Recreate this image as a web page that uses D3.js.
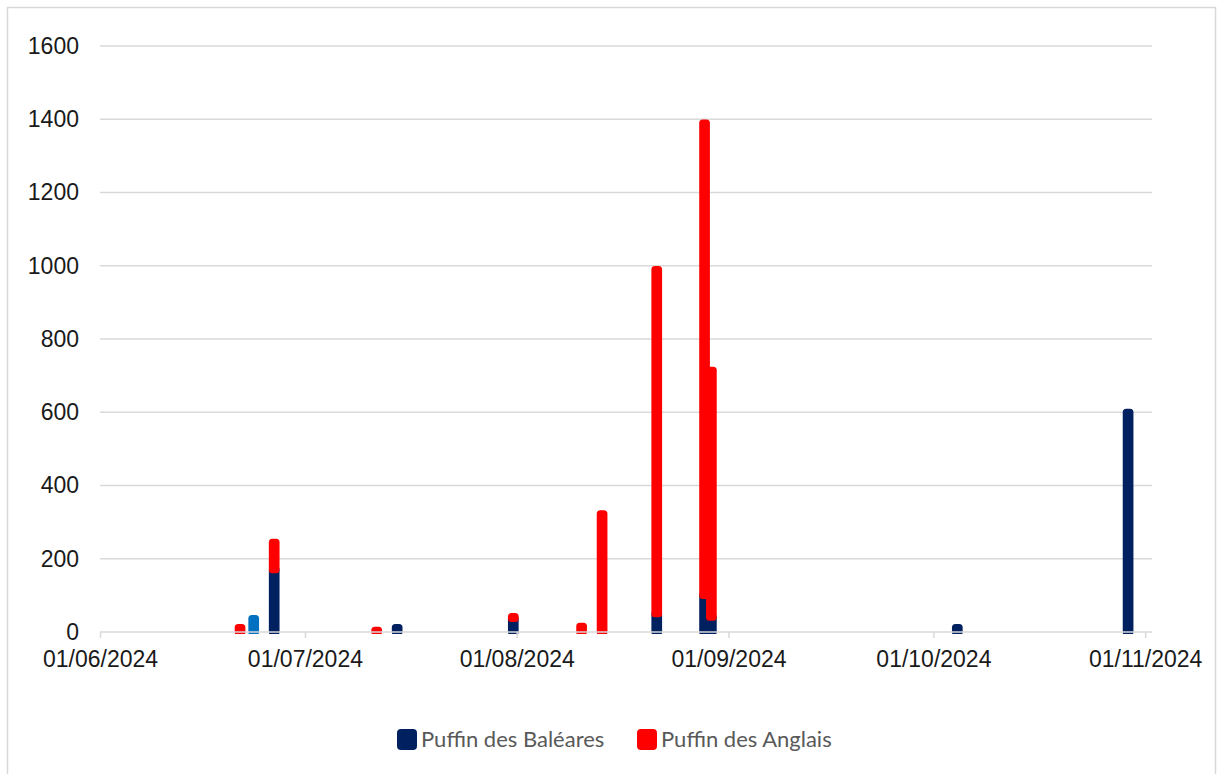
<!DOCTYPE html>
<html>
<head>
<meta charset="utf-8">
<script src="https://cdn.jsdelivr.net/npm/d3@7"></script>
<style>
  html, body { margin: 0; padding: 0; background: #fff; }
  svg { display: block; }
</style>
</head>
<body>
<svg id="chart" width="1217" height="774"></svg>
<script>
// Daily counts of shearwaters, summer–autumn 2024
const dates = ["2024-06-21", "2024-06-23", "2024-06-26", "2024-07-11", "2024-07-14",
               "2024-07-31", "2024-08-10", "2024-08-13", "2024-08-21", "2024-08-28",
               "2024-08-29", "2024-10-04", "2024-10-29"];
const baleares = [0, 0, 170, 0, 12, 37, 0, 0, 50, 100, 40, 12, 600];
const autres   = [0, 37, 0, 0, 0, 0, 0, 0, 0, 0, 0, 0, 0];
const anglais  = [12, 0, 75, 5, 0, 5, 16, 323, 940, 1290, 675, 0, 0];

const yTicks = [0, 200, 400, 600, 800, 1000, 1200, 1400, 1600];
const xTicks = ["2024-06-01", "2024-07-01", "2024-08-01", "2024-09-01", "2024-10-01", "2024-11-01"];

const seriesNames = ["Puffin des Baléares", "Autres", "Puffin des Anglais"];
const legendNames = ["Puffin des Baléares", "Puffin des Anglais"];
const colors = { "Puffin des Baléares": "#002060", "Autres": "#0070C0", "Puffin des Anglais": "#FF0000" };

const parse = d3.utcParse("%Y-%m-%d");
const fmt = d3.utcFormat("%d/%m/%Y");

const svg = d3.select("#chart");

// chart frame
svg.append("rect")
  .attr("x", 7.5).attr("y", 7.5)
  .attr("width", 1208).attr("height", 780)
  .attr("fill", "#fff").attr("stroke", "#D9D9D9").attr("stroke-width", 1.5);

const x = d3.scaleUtc()
  .domain([parse("2024-06-01"), parse("2024-11-02")])
  .range([100, 1152]);
const y = d3.scaleLinear().domain([0, 1600]).range([632, 46]);

// plot area clip (bars are cut just below the baseline)
svg.append("defs").append("clipPath").attr("id", "plot-clip")
  .append("rect").attr("x", 90).attr("y", 30).attr("width", 1080).attr("height", 604);

// horizontal gridlines
svg.append("g")
  .selectAll("line")
  .data(yTicks.filter(v => v > 0))
  .join("line")
  .attr("x1", 100).attr("x2", 1152)
  .attr("y1", d => y(d)).attr("y2", d => y(d))
  .attr("stroke", "#D9D9D9").attr("stroke-width", 1.5);

// y axis labels
const yAxis = d3.axisLeft(y).tickValues(yTicks).tickSize(0).tickPadding(0).tickFormat(d3.format("d"));
svg.append("g")
  .attr("transform", "translate(79,0)")
  .call(yAxis)
  .call(g => g.select(".domain").remove())
  .call(g => g.selectAll("text")
    .attr("font-family", "Liberation Sans, Arial, sans-serif")
    .attr("font-size", 23)
    .attr("fill", "#1a1a1a"));

// stacked bars
const stackData = dates.map((d, i) => ({
  date: parse(d),
  "Puffin des Baléares": baleares[i],
  "Autres": autres[i],
  "Puffin des Anglais": anglais[i]
}));
const stacked = d3.stack().keys(seriesNames)(stackData);

const halfDay = d => d3.utcHour.offset(d, 12);
const barW = 3.7;
const strokeW = 7;

svg.append("g")
  .attr("clip-path", "url(#plot-clip)")
  .selectAll("g")
  .data(stacked)
  .join("g")
  .attr("fill", s => colors[s.key])
  .attr("stroke", s => colors[s.key])
  .attr("stroke-width", strokeW)
  .attr("stroke-linejoin", "round")
  .selectAll("rect")
  .data(s => s.filter(p => p[1] - p[0] > 0))
  .join("rect")
  .attr("x", p => x(halfDay(p.data.date)) - barW / 2)
  .attr("width", barW)
  .attr("y", p => y(p[1]))
  .attr("height", p => y(p[0]) - y(p[1]));

// x axis
const xAxis = d3.axisBottom(x)
  .tickValues(xTicks.map(parse))
  .tickSize(6)
  .tickPadding(13)
  .tickFormat(fmt);
svg.append("g")
  .attr("transform", "translate(0,632)")
  .call(xAxis)
  .call(g => g.select(".domain")
    .attr("d", "M100,0H1152")
    .attr("stroke", "#D9D9D9").attr("stroke-width", 1.5))
  .call(g => g.selectAll(".tick line").attr("stroke", "#D9D9D9").attr("stroke-width", 1.5))
  .call(g => g.selectAll("text")
    .attr("font-family", "Liberation Sans, Arial, sans-serif")
    .attr("font-size", 23)
    .attr("fill", "#1a1a1a"));

// legend
const legendX = [397, 637];
const legend = svg.append("g")
  .selectAll("g")
  .data(legendNames)
  .join("g")
  .attr("transform", (d, i) => `translate(${legendX[i]},729)`);
legend.append("rect")
  .attr("width", 20).attr("height", 21).attr("rx", 4)
  .attr("fill", d => colors[d]);
legend.append("text")
  .attr("x", 24).attr("y", 18)
  .attr("font-family", "Lato, 'Open Sans', sans-serif")
  .attr("font-size", 22)
  .attr("fill", "#595959")
  .text(d => d);
</script>
</body>
</html>
